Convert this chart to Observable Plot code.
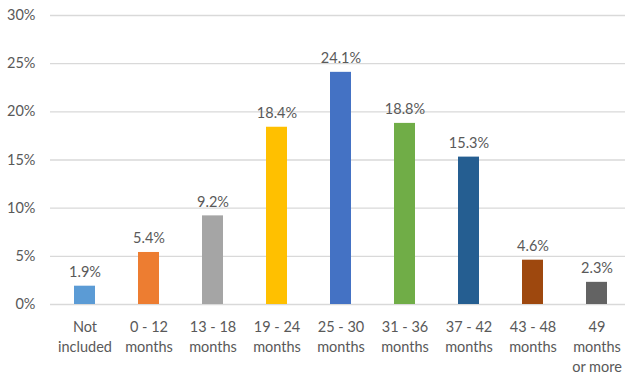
<!DOCTYPE html>
<html>
<head>
<meta charset="utf-8">
<script src="https://cdn.jsdelivr.net/npm/d3@7"></script>
<script src="https://cdn.jsdelivr.net/npm/@observablehq/plot@0.6"></script>
<style>
  html, body { margin: 0; padding: 0; background: #fff; }
  #chart svg { display: block; }
</style>
</head>
<body>
<div id="chart"></div>
<script>
// Share of respondents by duration bucket (percent)
const categories = [
  "Not\nincluded", "0 - 12\nmonths", "13 - 18\nmonths", "19 - 24\nmonths",
  "25 - 30\nmonths", "31 - 36\nmonths", "37 - 42\nmonths", "43 - 48\nmonths",
  "49\nmonths\nor more"
];
const values = [1.9, 5.4, 9.2, 18.4, 24.1, 18.8, 15.3, 4.6, 2.3];
const colors = ["#5B9BD5", "#ED7D31", "#A5A5A5", "#FFC000", "#4472C4", "#70AD47", "#255E91", "#9E480E", "#636363"];
const yTicks = [0, 5, 10, 15, 20, 25, 30];

const data = categories.map((c, i) => ({category: c, value: values[i], color: colors[i]}));

const chart = Plot.plot({
  width: 625,
  height: 376,
  marginTop: 15,
  marginBottom: 72,
  marginLeft: 50,
  marginRight: 0,
  style: {fontFamily: "Lato, 'Open Sans', sans-serif", fontSize: "14.5px", color: "#595959", background: "#fff"},
  // bands run slightly past the right edge so the last column sits near the border
  x: {domain: categories, range: [53, 628], paddingInner: 0.67, paddingOuter: 0.32, label: null},
  y: {domain: [0, 30], label: null},
  marks: [
    Plot.gridY(yTicks, {stroke: "#D9D9D9", strokeOpacity: 1, strokeWidth: 1.3}),
    Plot.axisY(yTicks, {tickSize: 0, tickPadding: 15, tickFormat: d => d + "%", fill: "#595959"}),
    Plot.axisX({tickSize: 0, tickPadding: 13, lineHeight: 1.38, fill: "#595959"}),
    Plot.barY(data, {x: "category", y: "value", fill: "color"}),
    Plot.text(data, {x: "category", y: "value", text: d => d.value.toFixed(1) + "%", dy: -9, lineAnchor: "bottom", fill: "#595959"})
  ]
});

document.getElementById("chart").appendChild(chart);
</script>
</body>
</html>
